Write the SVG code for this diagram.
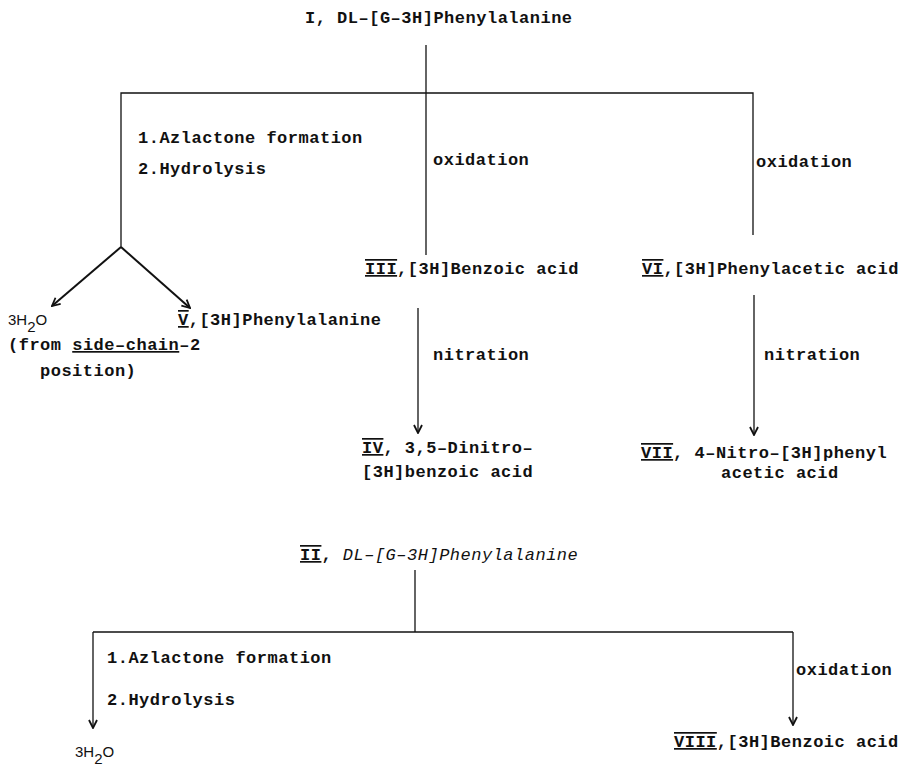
<svg xmlns="http://www.w3.org/2000/svg" width="908" height="770" viewBox="0 0 908 770">
<style>
text{font-family:"Liberation Mono","Courier New",monospace;font-size:17px;font-weight:bold;letter-spacing:0.5px;fill:#111}
.sm{font-family:"Liberation Sans",Arial,sans-serif;font-weight:normal;letter-spacing:0;font-size:15px}
.num{text-decoration:overline underline}
.ul{text-decoration:underline}
.it{font-style:italic;font-weight:normal}
.c{stroke:#111;fill:none;stroke-width:1.3}
.b{stroke:#111;fill:none;stroke-width:2}
</style>
<defs>
<marker id="ah" viewBox="0 0 10 10" refX="9" refY="5" markerWidth="10" markerHeight="10" markerUnits="userSpaceOnUse" orient="auto">
<path d="M1,1 L9,5 L1,9" fill="none" stroke="#111" stroke-width="1.8"/>
</marker>
</defs>
<rect width="908" height="770" fill="#fff"/>
<g id="connectors">
<path class="c" d="M426,45 V255"/>
<path class="c" d="M121,247 V93 H753 V235"/>
<path class="b" d="M121,247 L52,306" marker-end="url(#ah)"/>
<path class="b" d="M121,247 L190,308" marker-end="url(#ah)"/>
<path class="c" d="M418,308 V433" marker-end="url(#ah)"/>
<path class="c" d="M754,295 V435" marker-end="url(#ah)"/>
<path class="c" d="M415,570 V632"/>
<path class="c" d="M93,632 H793"/>
<path class="c" d="M93,632 V728" marker-end="url(#ah)"/>
<path class="c" d="M793,632 V725" marker-end="url(#ah)"/>
</g>
<g id="n1"><text x="305" y="23">I, DL–[G–3H]Phenylalanine</text></g>
<g id="lbl1"><text x="138" y="143">1.Azlactone formation</text><text x="138" y="174">2.Hydrolysis</text></g>
<g id="lbl2"><text x="433" y="165">oxidation</text></g>
<g id="lbl3"><text x="756" y="167">oxidation</text></g>
<g id="n3"><text x="365" y="274"><tspan class="num">III</tspan>,[3H]Benzoic acid</text></g>
<g id="n6"><text x="642" y="274"><tspan class="num">VI</tspan>,[3H]Phenylacetic acid</text></g>
<g id="nw"><text class="sm" x="8" y="325">3H<tspan dy="7">2</tspan><tspan dy="-7">O</tspan></text>
<text x="8" y="350">(from <tspan class="ul">side–chain</tspan>–2</text><text x="40" y="376">position)</text></g>
<g id="n5"><text x="178" y="325"><tspan class="num">V</tspan>,[3H]Phenylalanine</text></g>
<g id="lbl4"><text x="433" y="360">nitration</text></g>
<g id="lbl5"><text x="764" y="360">nitration</text></g>
<g id="n4"><text x="362" y="453"><tspan class="num">IV</tspan>, 3,5–Dinitro–</text><text x="362" y="477">[3H]benzoic acid</text></g>
<g id="n7"><text x="641" y="458"><tspan class="num">VII</tspan>, 4–Nitro–[3H]phenyl</text><text x="721" y="478">acetic acid</text></g>
<g id="n2"><text x="300" y="560"><tspan class="num">II</tspan>, <tspan class="it">DL–[G–3H]Phenylalanine</tspan></text></g>
<g id="lbl6"><text x="107" y="663">1.Azlactone formation</text><text x="107" y="705">2.Hydrolysis</text></g>
<g id="lbl7"><text x="796" y="675">oxidation</text></g>
<g id="nw2"><text class="sm" x="75" y="757">3H<tspan dy="7">2</tspan><tspan dy="-7">O</tspan></text></g>
<g id="n8"><text x="674" y="747"><tspan class="num">VIII</tspan>,[3H]Benzoic acid</text></g>
</svg>
